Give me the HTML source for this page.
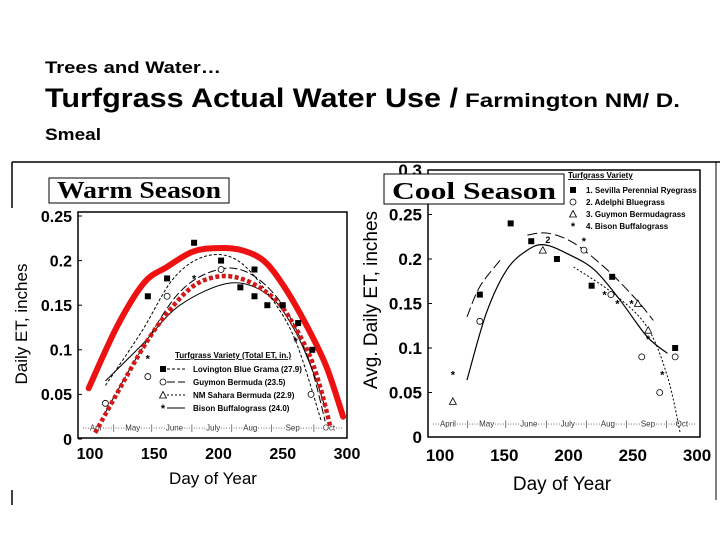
<!DOCTYPE html>
<html><head><meta charset="utf-8"><style>
html,body{margin:0;padding:0;background:#fff;width:720px;height:540px;overflow:hidden}
svg{display:block;font-family:"Liberation Sans",Arial,sans-serif}
</style></head><body>
<svg id="s" width="720" height="540" viewBox="0 0 720 540">
<text x="45" y="73" font-size="17" font-weight="bold" textLength="176" lengthAdjust="spacingAndGlyphs">Trees and Water…</text>
<text x="45" y="107" font-size="27" font-weight="bold" textLength="413" lengthAdjust="spacingAndGlyphs">Turfgrass Actual Water Use /</text>
<text x="465" y="107" font-size="19" font-weight="bold" textLength="215" lengthAdjust="spacingAndGlyphs">Farmington NM/ D.</text>
<text x="45" y="140" font-size="17" font-weight="bold" textLength="56" lengthAdjust="spacingAndGlyphs">Smeal</text>
<line x1="12" y1="162" x2="720" y2="162" stroke="#000" stroke-width="1.5"/>
<line x1="12" y1="162" x2="12" y2="208" stroke="#000" stroke-width="1.5"/>
<line x1="12" y1="490" x2="12" y2="505" stroke="#000" stroke-width="1.5"/>
<line x1="716" y1="162" x2="716" y2="500" stroke="#000" stroke-width="1"/>
<g id="warm"></g>
<g id="cool"></g>
</svg>
<script>
// ---- Warm season data ----
const warmXTicks=[100,150,200,250,300];
const warmYTicks=[0,0.05,0.1,0.15,0.2,0.25];
const warmYTickLabels=["0","0.05","0.1","0.15","0.2","0.25"];
const warmRedDays=[99,121,142,160,180,199,217,235,251,269,284,297];
const warmRedVals=[0.057,0.126,0.175,0.193,0.21,0.214,0.212,0.2,0.171,0.126,0.081,0.025];
const warmRedDotDays=[104,121,142,160,180,199,217,235,251,269,279,287];
const warmRedDotVals=[0.007,0.051,0.104,0.141,0.171,0.182,0.18,0.167,0.145,0.1,0.059,0.014];
const warmLovDays=[112,140,165,190,215,240,260,280];
const warmLovVals=[0.06,0.12,0.18,0.205,0.2,0.16,0.11,0.02];
const warmGuyDays=[112,140,170,200,225,250,270,283];
const warmGuyVals=[0.03,0.1,0.165,0.19,0.185,0.15,0.09,0.02];
const warmBisDays=[112,140,170,210,240,260,275,283];
const warmBisVals=[0.065,0.105,0.15,0.175,0.16,0.12,0.07,0.035];
const warmSqDays=[145,160,181,202,217,228,238,228,250,262,273];
const warmSqVals=[0.16,0.18,0.22,0.2,0.17,0.19,0.15,0.16,0.15,0.13,0.1];
const warmCircDays=[112,145,160,202,272];
const warmCircVals=[0.04,0.07,0.16,0.19,0.05];
const warmStarDays=[145,181,260];
const warmStarVals=[0.09,0.18,0.11];
// ---- Cool season data ----
const coolXTicks=[100,150,200,250,300];
const coolYTicks=[0,0.05,0.1,0.15,0.2,0.25,0.3];
const coolYTickLabels=["0","0.05","0.1","0.15","0.2","0.25","0.3"];
const coolSolidDays=[121,136,152,168,181,199,220,240,261,277];
const coolSolidVals=[0.064,0.139,0.188,0.21,0.216,0.206,0.188,0.154,0.113,0.094];
const coolDashA_Days=[121,131,147];
const coolDashA_Vals=[0.135,0.169,0.199];
const coolDashB_Days=[168,184,204,230,253,266];
const coolDashB_Vals=[0.227,0.229,0.218,0.188,0.154,0.131];
const coolDotDays=[204,235,261,277,287];
const coolDotVals=[0.191,0.161,0.124,0.068,0.004];
const coolSqDays=[131,155,171,191,218,234,283];
const coolSqVals=[0.16,0.24,0.22,0.2,0.17,0.18,0.1];
const coolCircDays=[131,212,233,257,271,283];
const coolCircVals=[0.13,0.21,0.16,0.09,0.05,0.09];
const coolTriDays=[110,180,262,254];
const coolTriVals=[0.04,0.21,0.12,0.15];
const coolStarDays=[110,228,238,249,262,273,212];
const coolStarVals=[0.07,0.16,0.15,0.15,0.11,0.07,0.22];

const NS="http://www.w3.org/2000/svg";
function mk(p,tag,at,txt){const e=document.createElementNS(NS,tag);for(const k in at)e.setAttribute(k,at[k]);if(txt!=null)e.textContent=txt;p.appendChild(e);return e;}
function smooth(pts){let d="M"+pts[0][0]+","+pts[0][1];for(let i=0;i<pts.length-1;i++){const p0=pts[i-1]||pts[i],p1=pts[i],p2=pts[i+1],p3=pts[i+2]||p2;
d+=" C"+(p1[0]+(p2[0]-p0[0])/6)+","+(p1[1]+(p2[1]-p0[1])/6)+" "+(p2[0]-(p3[0]-p1[0])/6)+","+(p2[1]-(p3[1]-p1[1])/6)+" "+p2[0]+","+p2[1];}return d;}
function marker(g,type,x,y){let e;
 if(type==="sq"){e=mk(g,"rect",{x:x-3,y:y-3,width:6,height:6,fill:"#000"});}
 else if(type==="circ"){e=mk(g,"circle",{cx:x,cy:y,r:3,fill:"#fff",stroke:"#000","stroke-width":0.8});}
 else if(type==="tri"){e=mk(g,"path",{d:`M${x},${y-3.5}L${x+3.5},${y+3}L${x-3.5},${y+3}Z`,fill:"#fff",stroke:"#000","stroke-width":0.8});}
 else {e=mk(g,"text",{x:x,y:y+4,"font-size":11,"font-weight":"bold","text-anchor":"middle"},"*");}
 return e;}

function chart(opt){
 const g=document.getElementById(opt.id);
 const X=d=>opt.x0+(d-100)/200*(opt.x1-opt.x0);
 const Y=v=>opt.y0-v/opt.vmax*(opt.y0-opt.ytop);
 const box=mk(g,"rect",{x:opt.bx0,y:opt.by0,width:opt.bx1-opt.bx0,height:opt.by1-opt.by0,fill:"none",stroke:"#000","stroke-width":1.5});
 
 
 opt.xt.forEach(t=>{const e=mk(g,"text",{x:X(t),y:opt.by1+opt.xlOff,"font-size":opt.fs,"font-weight":"bold","text-anchor":"middle"},String(t));
  
  });
 opt.yt.forEach((t,i)=>{const e=mk(g,"text",{x:opt.bx0-6,y:Y(t)+opt.fs*0.36,"font-size":opt.fs,"font-weight":"bold","text-anchor":"end"},opt.ytl[i]);
  
  
  mk(g,"line",{x1:opt.bx0,x2:opt.bx0+4,y1:Y(t),y2:Y(t),stroke:"#000"});});
 const xl=mk(g,"text",{x:opt.xlx,y:opt.xly,"font-size":opt.afs,"text-anchor":"middle"},"Day of Year");
 
 
 const yl=mk(g,"text",{x:0,y:0,"font-size":opt.afs,"text-anchor":"middle",transform:`translate(${opt.ylx},${opt.yly}) rotate(-90)`},opt.ylab);
 
 
 const mb=mk(g,"text",{x:opt.bx0+4,y:Y(opt.mbv)+3,"font-size":8.5,fill:"#333",textLength:opt.bx1-opt.bx0-8,lengthAdjust:"spacingAndGlyphs"},opt.months);
 
 
 opt.lines.forEach(l=>{const pts=l.d.map((d,i)=>[X(d),Y(l.v[i])]);
  const e=mk(g,"path",{d:smooth(pts),fill:"none",stroke:l.c||"#000","stroke-width":l.w||1,"stroke-dasharray":l.da||"none","stroke-linecap":l.cap||"butt"});
  
  });
 opt.marks.forEach(m=>{m.d.forEach((d,i)=>{const e=marker(g,m.t,X(d),Y(m.v[i]));
  
  });});
 return {g,X,Y};
}

const w=chart({id:"warm",x0:90,x1:347,y0:439,ytop:216,vmax:0.25,bx0:78,bx1:347,by0:212,by1:438,xt:warmXTicks,yt:warmYTicks,ytl:warmYTickLabels,fs:16,afs:17,xlOff:21,
 xlx:213,xly:484,ylx:27,yly:324,ylab:"Daily ET, inches",mbv:0.013,months:"···Apr····|····May····|·····June···|·····July····|····Aug·····|·····Sep·····|···Oct···",
 lines:[
  {d:warmLovDays,v:warmLovVals,da:"3,2",name:"lovington-curve"},
  {d:warmGuyDays,v:warmGuyVals,da:"8,3",name:"guymon-curve"},
  {d:warmBisDays,v:warmBisVals,name:"bison-curve"},
  {d:warmRedDays,v:warmRedVals,c:"#ee1111",w:6,cap:"round",name:"red-envelope-curve"},
  {d:warmRedDotDays,v:warmRedDotVals,c:"#d01818",w:4.5,da:"4,2.5",name:"red-dotted-curve"}],
 marks:[{t:"sq",d:warmSqDays,v:warmSqVals,name:"lovington-point"},{t:"circ",d:warmCircDays,v:warmCircVals,name:"guymon-point"},{t:"star",d:warmStarDays,v:warmStarVals,name:"bison-point"}]});

const c=chart({id:"cool",x0:440,x1:697,y0:437,ytop:170,vmax:0.3,bx0:428,bx1:700,by0:170,by1:437,xt:coolXTicks,yt:coolYTicks,ytl:coolYTickLabels,fs:17,afs:19,xlOff:24,
 xlx:562,xly:490,ylx:377,yly:300,ylab:"Avg. Daily ET, inches",mbv:0.015,months:"···April····|····May····|·····June···|·····July····|·····Aug····|·····Sep····|···Oct···",
 lines:[
  {d:coolSolidDays,v:coolSolidVals,w:1.2,name:"ryegrass-curve"},
  {d:coolDashA_Days,v:coolDashA_Vals,da:"10,4",name:"bluegrass-curve-early"},
  {d:coolDashB_Days,v:coolDashB_Vals,da:"10,4",name:"bluegrass-curve"},
  {d:coolDotDays,v:coolDotVals,da:"2,2",name:"bermudagrass-curve"}],
 marks:[{t:"sq",d:coolSqDays,v:coolSqVals,name:"ryegrass-point"},{t:"circ",d:coolCircDays,v:coolCircVals,name:"bluegrass-point"},{t:"tri",d:coolTriDays,v:coolTriVals,name:"bermudagrass-point"},{t:"star",d:coolStarDays,v:coolStarVals,name:"buffalograss-point"}]});

const s=document.getElementById("s");
const wl=mk(s,"g",{"font-size":8,"font-weight":"bold"});


mk(wl,"text",{x:175,y:358,"text-decoration":"underline"},"Turfgrass Variety (Total ET, in.)");
const wlNames=["Lovington Blue Grama (27.9)","Guymon Bermuda (23.5)","NM Sahara Bermuda (22.9)","Bison Buffalograss (24.0)"];
const wlTypes=["sq","circ","tri","star"];const wlDash=["3,2","8,3","2,2","none"];
wlNames.forEach((n,i)=>{const y=372+i*13;marker(wl,wlTypes[i],163,y-3);mk(wl,"line",{x1:167,x2:185,y1:y-3,y2:y-3,stroke:"#000","stroke-dasharray":wlDash[i]});
 const t=mk(wl,"text",{x:193,y:y},n);
 
 });
const cl=mk(s,"g",{"font-size":8,"font-weight":"bold"});


mk(cl,"text",{x:568,y:178,"text-decoration":"underline"},"Turfgrass Variety");
const clNames=["1. Sevilla Perennial Ryegrass","2. Adelphi Bluegrass","3. Guymon Bermudagrass","4. Bison Buffalograss"];
clNames.forEach((n,i)=>{const y=193+i*12;marker(cl,wlTypes[i],573,y-3);
 const t=mk(cl,"text",{x:586,y:y},n);
 
 });
mk(s,"text",{x:c.X(182),y:c.Y(0.218),"font-size":9,"font-weight":"bold"},"2");
function sbox(x,y,wd,h,txt,name){const g=mk(s,"g",{});
 
 
 mk(g,"rect",{x:x,y:y,width:wd,height:h,fill:"#fff",stroke:"#000","stroke-width":1});
 mk(g,"text",{x:x+wd/2,y:y+h-5,"font-size":24,"font-weight":"bold","font-family":"'Liberation Serif',serif","text-anchor":"middle",textLength:wd-16,lengthAdjust:"spacingAndGlyphs"},txt);}
sbox(49,178,180,25,"Warm Season","warm-season-label");
sbox(384,174,180,30,"Cool Season","cool-season-label");
</script>
</body></html>
